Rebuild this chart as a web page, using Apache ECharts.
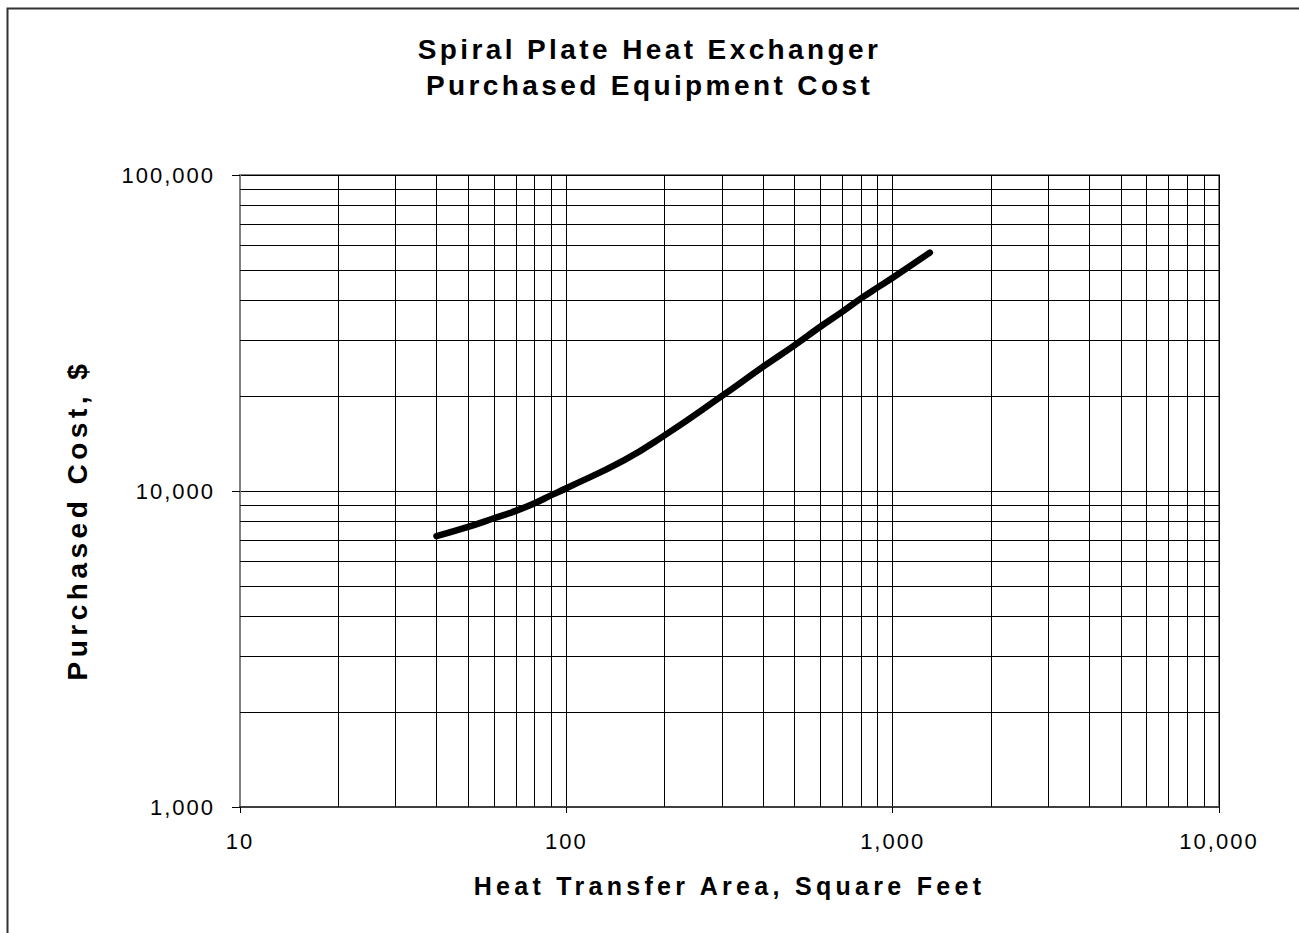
<!DOCTYPE html>
<html>
<head>
<meta charset="utf-8">
<script src="https://cdn.jsdelivr.net/npm/echarts@6/dist/echarts.min.js"></script>
<style>
  html, body { margin: 0; padding: 0; background: #fff; }
  #chart { width: 1299px; height: 933px; }
</style>
</head>
<body>
<div id="chart"></div>
<script>
// curve
const areaSqFt = [40, 50, 60, 70, 80, 90, 100, 150, 200, 300, 400, 500, 600, 700, 800, 900, 1000, 1300];
const costUsd = [7200, 7700, 8200, 8650, 9150, 9700, 10200, 12500, 15000, 20000, 24700, 28900, 33100, 36900, 40700, 44100, 47300, 56800];

// minor grid lines (2..9 of each decade)
const xMinorGrid = [20, 30, 40, 50, 60, 70, 80, 90, 200, 300, 400, 500, 600, 700, 800, 900, 2000, 3000, 4000, 5000, 6000, 7000, 8000, 9000];
const yMinorGrid = [2000, 3000, 4000, 5000, 6000, 7000, 8000, 9000, 20000, 30000, 40000, 50000, 60000, 70000, 80000, 90000];

const titleLines = ['Spiral Plate Heat Exchanger', 'Purchased Equipment Cost'];
const xName = 'Heat Transfer Area, Square Feet';
const yName = 'Purchased Cost, $';

const font = 'Liberation Sans';
const fmt = v => Number(v).toLocaleString('en-US');

const chart = echarts.init(document.getElementById('chart'), null, { renderer: 'svg' });

chart.setOption({
  animation: false,
  backgroundColor: '#fff',
  title: {
    text: titleLines.join('\n'),
    left: 'center',
    top: 31,
    padding: 0,
    textStyle: { fontFamily: font, fontSize: 28, fontWeight: 'bold', color: '#000', lineHeight: 36 }
  },
  grid: {
    left: 240, top: 175, right: 80, bottom: 126,
    show: true, borderColor: '#808080', borderWidth: 2
  },
  xAxis: {
    type: 'log', logBase: 10, min: 10, max: 10000,
    name: xName, nameLocation: 'middle', nameGap: 66,
    nameTextStyle: { fontFamily: font, fontSize: 25, fontWeight: 'bold', color: '#000' },
    axisLine: { lineStyle: { color: '#404040', width: 2 } },
    axisTick: { show: true, length: 6, lineStyle: { color: '#000' } },
    axisLabel: { margin: 23, fontFamily: font, fontSize: 22, color: '#000', formatter: fmt },
    splitLine: { show: true, lineStyle: { color: '#000', width: 1 } }
  },
  yAxis: {
    type: 'log', logBase: 10, min: 1000, max: 100000,
    axisLine: { show: true, lineStyle: { color: '#808080', width: 2 } },
    axisTick: { show: true, length: 8, lineStyle: { color: '#000' } },
    axisLabel: { margin: 25, fontFamily: font, fontSize: 22, color: '#000', formatter: fmt },
    splitLine: { show: true, lineStyle: { color: '#000', width: 1 } }
  },
  graphic: [
    {
      type: 'rect', left: 5, top: 6, z: -10, silent: true,
      shape: { width: 1310, height: 950 },
      style: { fill: null, stroke: '#333', lineWidth: 2 }
    },
    {
      type: 'text', x: 77, y: 520, rotation: Math.PI / 2, silent: true,
      style: {
        text: yName, fontFamily: font, fontSize: 28, fontWeight: 'bold', fill: '#000',
        textAlign: 'center', textVerticalAlign: 'middle'
      }
    }
  ],
  series: [
    {
      name: 'grid',
      type: 'line',
      data: [],
      z: 1,
      silent: true,
      markLine: {
        silent: true,
        symbol: 'none',
        label: { show: false },
        lineStyle: { color: '#000', width: 1, type: 'solid' },
        data: xMinorGrid.map(v => ({ xAxis: v })).concat(yMinorGrid.map(v => ({ yAxis: v })))
      }
    },
    {
      name: 'Purchased Cost',
      type: 'line',
      z: 5,
      data: areaSqFt.map((x, i) => [x, costUsd[i]]),
      smooth: 0.5,
      showSymbol: false,
      lineStyle: { color: '#000', width: 6.5, cap: 'round', join: 'round' }
    }
  ]
});

// spread letters like the original (SVG text accepts letter-spacing)
const spacing = {};
spacing[titleLines[0]] = 3.4;
spacing[titleLines[1]] = 3.4;
spacing[xName] = 4.3;
spacing[yName] = 4.5;

function spreadText() {
  chart.getDom().querySelectorAll('text').forEach(t => {
    const s = t.textContent;
    const sp = spacing[s] !== undefined ? spacing[s] : 2;
    t.setAttribute('letter-spacing', sp + 'px');
  });
}
chart.on('finished', spreadText);
spreadText();
setTimeout(spreadText, 50);
</script>
</body>
</html>
